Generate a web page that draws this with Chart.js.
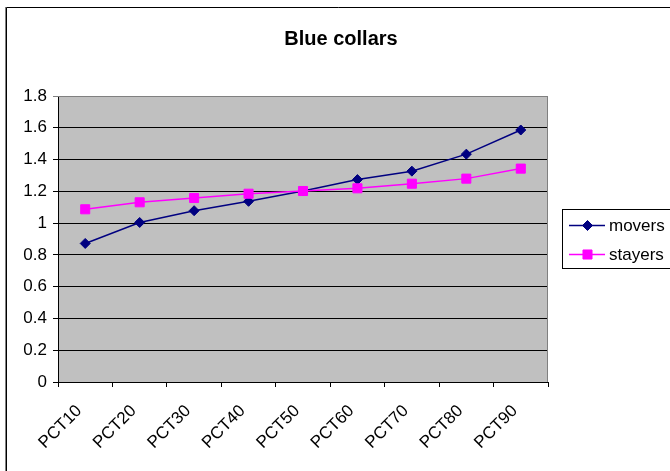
<!DOCTYPE html>
<html>
<head>
<meta charset="utf-8">
<script src="https://cdn.jsdelivr.net/npm/chart.js@4"></script>
<style>
html,body{margin:0;padding:0;background:#fff;}
canvas{display:block;}
</style>
</head>
<body>
<canvas id="c" width="670" height="471"></canvas>
<script>
const chartTitle = 'Blue collars';
const categories = ['PCT10','PCT20','PCT30','PCT40','PCT50','PCT60','PCT70','PCT80','PCT90'];
const moversName = 'movers';
const moversValues = [0.872, 1.004, 1.078, 1.137, 1.202, 1.274, 1.327, 1.434, 1.586];
const stayersName = 'stayers';
const stayersValues = [1.087, 1.131, 1.158, 1.185, 1.202, 1.219, 1.248, 1.280, 1.343];
const yTickLabels = ['0','0.2','0.4','0.6','0.8','1','1.2','1.4','1.6','1.8'];

const FONT = '"Liberation Sans", Arial, sans-serif';

const decor = {
  id: 'decor',
  beforeDraw(chart) {
    const ctx = chart.ctx, a = chart.chartArea;
    ctx.save();
    ctx.fillStyle = '#fff';
    ctx.fillRect(0, 0, chart.width, chart.height);
    ctx.strokeStyle = '#808080';
    ctx.lineWidth = 1;
    ctx.beginPath();
    ctx.moveTo(5.5, 7); ctx.lineTo(5.5, chart.height);
    ctx.stroke();
    ctx.strokeStyle = '#000';
    ctx.beginPath();
    ctx.moveTo(6.5, chart.height); ctx.lineTo(6.5, 7.5); ctx.lineTo(chart.width, 7.5);
    ctx.stroke();
    ctx.fillStyle = '#C0C0C0';
    ctx.fillRect(a.left, a.top, a.right - a.left, a.bottom - a.top);
    ctx.restore();
  },
  beforeDatasetsDraw(chart) {
    const ctx = chart.ctx, a = chart.chartArea;
    ctx.save();
    ctx.strokeStyle = '#808080';
    ctx.lineWidth = 1;
    ctx.beginPath();
    ctx.moveTo(a.left, a.top + 0.5); ctx.lineTo(a.right - 0.5, a.top + 0.5); ctx.lineTo(a.right - 0.5, a.bottom);
    ctx.stroke();
    ctx.restore();
  },
  afterDraw(chart) {
    const ctx = chart.ctx;
    ctx.save();
    ctx.fillStyle = '#000';
    ctx.font = 'bold 20px ' + FONT;
    ctx.textAlign = 'center';
    ctx.textBaseline = 'alphabetic';
    ctx.fillText(chartTitle, 341, 45);
    ctx.strokeStyle = '#000';
    ctx.lineWidth = 1;
    ctx.strokeRect(562.5, 209.5, 130, 59);
    const items = [
      {name: moversName, ds: chart.data.datasets[0], y: 225},
      {name: stayersName, ds: chart.data.datasets[1], y: 254}
    ];
    ctx.font = '17px ' + FONT;
    ctx.textAlign = 'left';
    ctx.textBaseline = 'middle';
    items.forEach(it => {
      ctx.strokeStyle = it.ds.borderColor;
      ctx.lineWidth = it.ds.borderWidth;
      ctx.beginPath();
      ctx.moveTo(569, it.y + 0.5); ctx.lineTo(605, it.y + 0.5);
      ctx.stroke();
      ctx.fillStyle = it.ds.pointBackgroundColor;
      ctx.strokeStyle = it.ds.pointBorderColor;
      ctx.lineWidth = 1;
      ctx.beginPath();
      if (it.ds.pointStyle === 'rect') {
        const h = it.ds.pointRadius * Math.SQRT1_2;
        ctx.rect(587.5 - h, it.y + 0.5 - h, 2 * h, 2 * h);
      } else {
        const r = it.ds.pointRadius;
        ctx.moveTo(587.5, it.y + 0.5 - r); ctx.lineTo(587.5 + r, it.y + 0.5);
        ctx.lineTo(587.5, it.y + 0.5 + r); ctx.lineTo(587.5 - r, it.y + 0.5); ctx.closePath();
      }
      ctx.fill(); ctx.stroke();
      ctx.fillStyle = '#000';
      ctx.fillText(it.name, 609, it.y + 1);
    });
    ctx.restore();
  }
};

new Chart(document.getElementById('c'), {
  type: 'line',
  data: {
    labels: categories,
    datasets: [
      {
        label: moversName,
        data: moversValues,
        order: 1,
        borderColor: '#000080',
        backgroundColor: '#000080',
        pointBackgroundColor: '#000080',
        pointBorderColor: '#000080',
        borderWidth: 1.5,
        pointStyle: 'rectRot',
        pointRadius: 5,
        pointBorderWidth: 1,
        tension: 0,
        fill: false
      },
      {
        label: stayersName,
        data: stayersValues,
        order: 0,
        borderColor: '#FF00FF',
        backgroundColor: '#FF00FF',
        pointBackgroundColor: '#FF00FF',
        pointBorderColor: '#FF00FF',
        borderWidth: 1.5,
        pointStyle: 'rect',
        pointRadius: 6.4,
        pointBorderWidth: 1,
        tension: 0,
        fill: false
      }
    ]
  },
  options: {
    responsive: false,
    animation: false,
    devicePixelRatio: 1,
    layout: { padding: { top: 96, right: 122, left: 0, bottom: 0 } },
    plugins: {
      legend: { display: false },
      title: { display: false },
      tooltip: { enabled: false }
    },
    scales: {
      x: {
        type: 'category',
        offset: true,
        grid: { offset: true, drawOnChartArea: false, drawTicks: true, tickLength: 5, color: '#000', lineWidth: 1 },
        border: { display: true, color: '#000', width: 1 },
        ticks: {
          color: '#000',
          font: { family: FONT, size: 17 },
          maxRotation: 45, minRotation: 45,
          padding: 14,
          labelOffset: -6,
          autoSkip: false
        },
        afterFit(scale) { scale.height = 89; }
      },
      y: {
        min: 0, max: 1.8,
        ticks: {
          stepSize: 0.2,
          color: '#000',
          font: { family: FONT, size: 17 },
          padding: 6,
          callback: (v, i) => yTickLabels[i]
        },
        grid: {
          color: ctx => (ctx.index === yTickLabels.length - 1 ? '#808080' : '#000'),
          lineWidth: 1,
          tickLength: 5,
          drawTicks: true
        },
        border: { display: true, color: '#000', width: 1 },
        afterFit(scale) { scale.width = 58; }
      }
    }
  },
  plugins: [decor]
});
</script>
</body>
</html>
